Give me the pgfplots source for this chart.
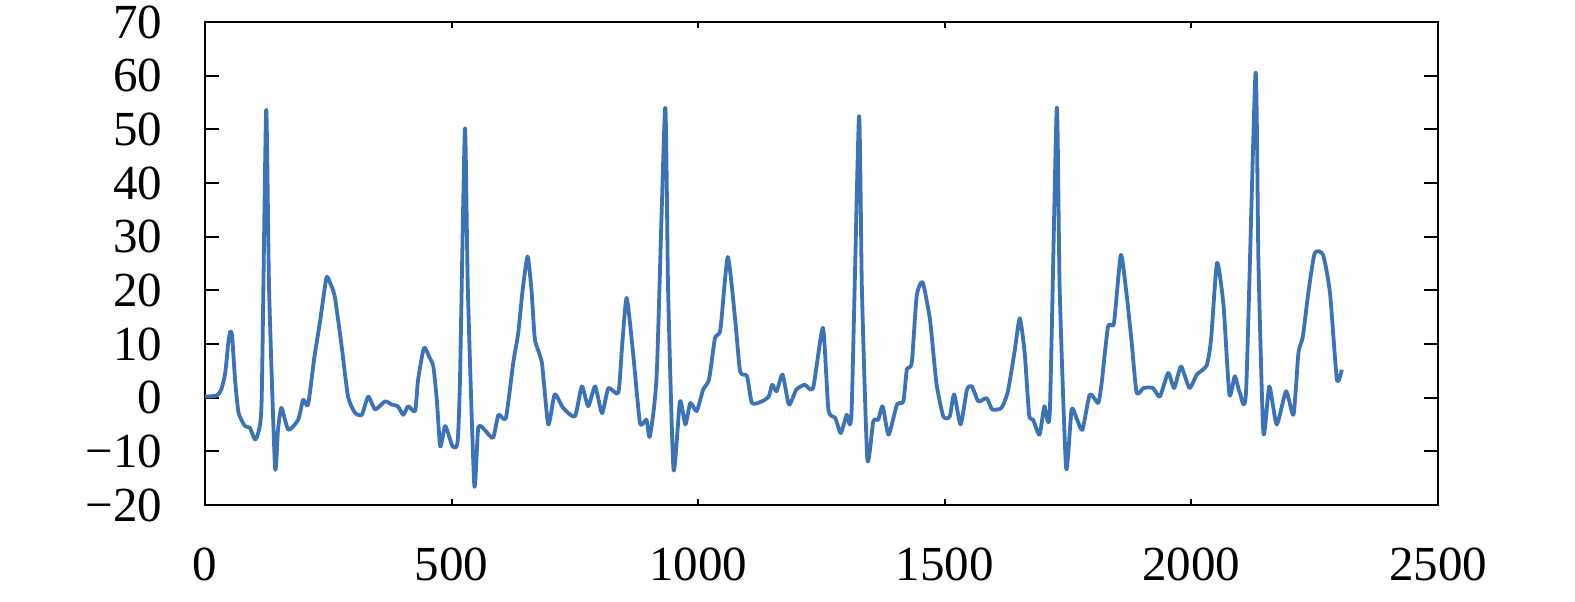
\documentclass[border=0pt]{standalone}
\usepackage{fontspec}
\setmainfont{Liberation Serif}
\usepackage{pgfplots}
\pgfplotsset{compat=1.18}
\definecolor{ecg}{RGB}{60,115,182}
\begin{document}
\begin{tikzpicture}
\begin{axis}[
  scale only axis,
  width=308.25pt, height=120.75pt,
  xmin=0, xmax=2500, ymin=-20, ymax=70,
  xtick={0,500,1000,1500,2000,2500},
  xticklabels={0,500,1000,1500,2000,2500},
  ytick={-20,-10,0,10,20,30,40,50,60,70},
  yticklabels={−20,−10,0,10,20,30,40,50,60,70},
  tick pos=both, tick align=inside,
  major tick length=3.5pt,
  xtick style={black, line width=0.5pt, /pgfplots/major tick length=1.6pt},
  ytick style={black, line width=0.5pt},
  axis line style={black, line width=0.6pt},
  tick label style={font=\fontsize{12.25pt}{14pt}\selectfont, text=black},
  yticklabel style={inner xsep=0pt, xshift=-10.5pt},
  xticklabel style={inner ysep=0pt, yshift=-10.5pt},
  clip=false,
]
\addplot[ecg, line width=0.95pt, line join=round, smooth, tension=0.35] coordinates {
(0,0.2)(3,0.2)(24,0.4)(33,1.5)(41,4.6)(47,10)(51,12.3)(55,11.5)(61,3.3)(68,-2.8)(81,-5.3)(91,-5.6)(101,-7.8)(108,-6.5)
(115,0)(124,53.6)(130,20)(142,-13)(148,-6)(155,-1.9)(169,-6)(189,-4.1)(199,-0.4)(209,-1.3)(222,7.7)(233,14)(246,22.3)(253,21.5)(263,18.9)(277,9.6)(290,0.2)
(304,-2.8)(318,-3.2)(331,0.2)(345,-2.2)(365,-0.7)(379,-1.3)(391,-1.6)(402,-3.2)(412,-1.6)(426,-2.5)(432,3.3)(444,9.3)(455,7.5)(463,5.8)(470,-0.4)(477,-9.1)(487,-5.3)(502,-9.1)(512,-8.4)
(517,3.3)(527,50.2)(533,20)(546,-16.3)(554,-5.6)(567,-6)(584,-7.5)(595,-3.2)(610,-3.8)(625,6.5)(635,12)(644,20)(654,26.3)(662,20)(669,10.8)(683,6.5)(696,-5)(709,0.6)(726,-1.9)(750,-3.5)
(764,2.1)(777,-1.6)(791,2.1)(805,-2.9)(818,1.8)(838,0.9)(846,10)(855,18.6)(868,8.3)(882,-4.7)(895,-4.1)(902,-7.2)(916,4.6)
(933,54)(939,20)(950,-13.4)(963,-0.7)(974,-5)(984,-1)(997,-2.5)(1010,1.5)(1022,3.4)(1034,11.1)(1045,12.7)(1060,26.2)(1075,14.5)(1085,4.9)(1099,4)(1109,-1)(1129,-0.7)(1143,0.2)(1150,2.4)(1159,1.2)(1171,4.3)(1184,-1.3)(1199,1.5)(1216,2.4)(1233,1.8)(1253,13)(1264,-2.2)(1278,-3.8)(1289,-6.6)(1301,-3.2)(1311,-2.5)
(1326,52.4)(1332,20)(1343,-11.5)(1355,-4.4)(1365,-4.1)(1374,-1.6)(1386,-6.9)(1403,-1.3)(1416,-0.7)(1423,5.2)(1433,6.5)(1443,18.9)(1455,21.5)(1470,14.5)(1483,2.7)(1497,-3.5)(1510,-3.5)(1519,0.6)(1532,-5)(1545,1.5)(1555,2.1)(1568,-0.7)(1585,-0.1)(1596,-2.2)(1615,-1.9)(1628,1.2)(1642,8.9)(1652,14.8)(1662,8.3)(1671,-3.2)(1679,-4.1)(1692,-6.9)(1702,-1.6)(1713,-2.5)
(1727,54)(1733,20)(1746,-13.1)(1757,-2.2)(1767,-3.8)(1779,-6)(1794,0.6)(1811,-1)(1818,2.7)(1831,13.3)(1843,13.9)(1857,26.6)(1869,18.9)(1879,10.2)(1889,0.9)(1903,1.8)(1922,1.8)(1936,0.2)(1953,4.6)(1965,1.8)(1979,5.8)(1996,1.8)(2011,4.3)(2031,6)(2040,11)(2052,25.1)(2065,17.3)(2077,0.6)(2088,4)(2098,1)(2111,1.5)
(2130,60.5)(2136,25)(2146,-6.6)(2158,2.1)(2173,-5)(2192,1.2)(2207,-3.2)(2217,8.3)(2226,11.4)(2237,19.5)(2250,26.9)(2267,26.6)(2281,19.5)(2295,3.4)(2305,5.2)
};
\coordinate (ll) at (rel axis cs:0,0);
\coordinate (ur) at (rel axis cs:1,1);
\end{axis}
\pgfresetboundingbox
\path ([xshift=-51.25pt,yshift=-24.25pt]ll) rectangle ([xshift=34.25pt,yshift=5.5pt]ur);
\end{tikzpicture}
\end{document}
